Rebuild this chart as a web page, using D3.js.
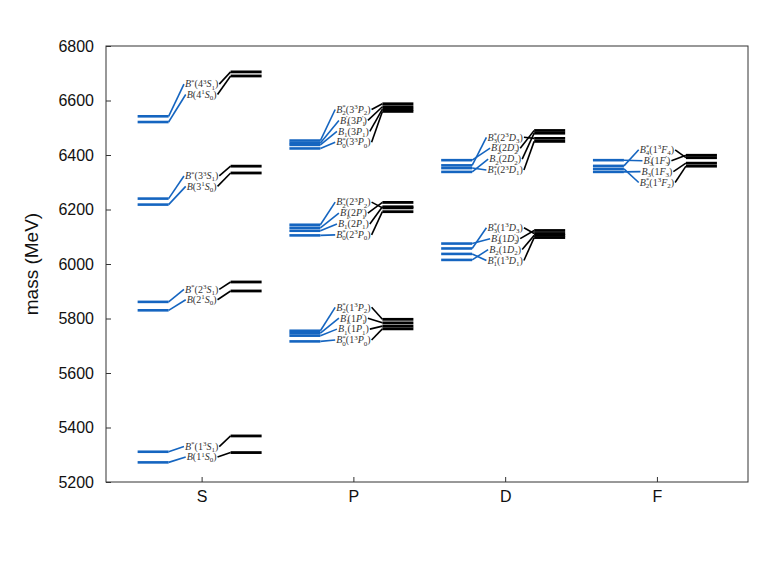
<!DOCTYPE html>
<html><head><meta charset="utf-8">
<script src="https://cdn.jsdelivr.net/npm/d3@7"></script>
<style>body{margin:0;background:#fff}</style>
</head><body>
<svg id="c" width="763" height="572"></svg>
<script>
const columns = ["S","P","D","F"];
const yTicks = [5200,5400,5600,5800,6000,6200,6400,6600,6800];
const multipletColumn = [0,0,0,0,1,1,1,2,2,3];
const stateNames = [
  ["B^*(4^3S_1)","B(4^1S_0)"],
  ["B^*(3^3S_1)","B(3^1S_0)"],
  ["B^*(2^3S_1)","B(2^1S_0)"],
  ["B^*(1^3S_1)","B(1^1S_0)"],
  ["B_2^*(3^3P_2)","B_1'(3P_1')","B_1(3P_1)","B_0^*(3^3P_0)"],
  ["B_2^*(2^3P_2)","B_1'(2P_1')","B_1(2P_1)","B_0^*(2^3P_0)"],
  ["B_2^*(1^3P_2)","B_1'(1P_1')","B_1(1P_1)","B_0^*(1^3P_0)"],
  ["B_3^*(2^3D_3)","B_2'(2D_2')","B_2(2D_2)","B_1^*(2^3D_1)"],
  ["B_3^*(1^3D_3)","B_2'(1D_2')","B_2(1D_2)","B_1^*(1^3D_1)"],
  ["B_4^*(1^3F_4)","B_3'(1F_3')","B_3(1F_3)","B_2^*(1^3F_2)"]
];
const modelMasses = [
  [6542,6521],[6240,6218],[5861,5830],[5311,5272],
  [6453,6444,6437,6424],[6144,6133,6122,6105],[5755,5746,5737,5716],
  [6362,6381,6338,6352],[6057,6075,6015,6037],
  [6360,6381,6338,6349]
];
const otherMasses = [
  [6705,6690],[6359,6334],[5934,5901],[5369,5308],
  [6588,6577,6568,6560],[6206,6226,6210,6192],[5797,5784,5772,5762],
  [6461,6490,6480,6450],[6112,6123,6105,6097],
  [6390,6399,6370,6359]
];
const labelAnchor = [6641,6304,5888,5311,6507,6167,5781,6405,6073,6359];

const L=106,R=748,T=46,B=482;
const svg=d3.select("#c");
const x=d3.scaleLinear().domain([-0.63,3.6]).range([L,R]);
const y=d3.scaleLinear().domain([5200,6800]).range([B,T]);
const blue="#1565c0";

svg.append("rect").attr("x",L).attr("y",T).attr("width",R-L).attr("height",B-T)
  .attr("fill","none").attr("stroke","#333").attr("stroke-width",1);

const ya=svg.append("g").attr("transform",`translate(${L},0)`)
  .call(d3.axisLeft(y).tickValues(yTicks).tickSize(-5).tickPadding(12).tickFormat(d3.format("d")));
const xa=svg.append("g").attr("transform",`translate(0,${B})`)
  .call(d3.axisBottom(x).tickValues([0,1,2,3]).tickSize(-5).tickPadding(9).tickFormat(i=>columns[i]));
[ya,xa].forEach(g=>{
  g.select(".domain").remove();
  g.attr("font-size",16).attr("font-family","Liberation Sans, Arial, sans-serif");
  g.selectAll(".tick line").attr("stroke","#333");
  g.selectAll("text").attr("font-family","Liberation Sans, Arial, sans-serif").attr("font-size",16).attr("fill","#111");
});
svg.append("text").attr("transform",`translate(38,${(T+B)/2}) rotate(-90)`)
  .attr("text-anchor","middle").attr("font-family","Liberation Sans, Arial, sans-serif")
  .attr("font-size",19).attr("fill","#111").text("mass (MeV)");

const FS=10, SS=FS*0.7;
function renderLabel(t,str){
  let shift=0;
  function add(txt,size,target,italic,dx){
    const ts=t.append("tspan").text(txt).attr("font-size",size).attr("dy",target-shift);
    if(italic) ts.attr("font-style","italic");
    if(dx) ts.attr("dx",dx);
    shift=target;
  }
  let i=0;
  while(i<str.length){
    const c=str[i]; i++;
    add(c,FS,0,/[A-Za-z]/.test(c));
    let sup="",sub="";
    while(i<str.length&&(str[i]==="^"||str[i]==="_"||str[i]==="'")){
      if(str[i]==="'"){sup+="′";i++;}
      else{const k=str[i],v=str[i+1];i+=2;if(k==="^")sup+=v;else sub+=v;}
    }
    if(sub&&sup){
      add(sub,SS,2.2,false);
      add(sup,SS,-3.7,false,-(sub.length*SS*0.5));
    }else if(sub){add(sub,SS,2.2,false);}
    else if(sup){add(sup,SS,-3.7,false);}
  }
}

stateNames.forEach((names,m)=>{
  const cx=x(multipletColumn[m]);
  const sp = names.length===2 ? 10.4 : 10.9;
  const cy=y(labelAnchor[m]);
  const g=svg.append("g");
  names.forEach((nm,k)=>{
    const ly=cy+(k-(names.length-1)/2)*sp;
    const t=g.append("text").attr("x",cx).attr("y",ly+3.3).attr("text-anchor","middle")
      .attr("font-size",FS)
      .attr("font-family","Liberation Serif, DejaVu Serif, serif").attr("fill","#333");
    renderLabel(t,nm);
    const bb=t.node().getBBox();
    const yb=y(modelMasses[m][k]), yk=y(otherMasses[m][k]);
    g.append("line").attr("x1",cx-64).attr("x2",cx-33).attr("y1",yb).attr("y2",yb)
      .attr("stroke",blue).attr("stroke-width",2.6);
    g.append("line").attr("x1",cx-33).attr("y1",yb).attr("x2",bb.x-1).attr("y2",ly)
      .attr("stroke",blue).attr("stroke-width",1.6);
    g.append("line").attr("x1",cx+29).attr("x2",cx+60).attr("y1",yk).attr("y2",yk)
      .attr("stroke","#000").attr("stroke-width",2.8);
    g.append("line").attr("x1",bb.x+bb.width+1).attr("y1",ly).attr("x2",cx+29).attr("y2",yk)
      .attr("stroke","#000").attr("stroke-width",1.6);
  });
});
</script>
</body></html>
